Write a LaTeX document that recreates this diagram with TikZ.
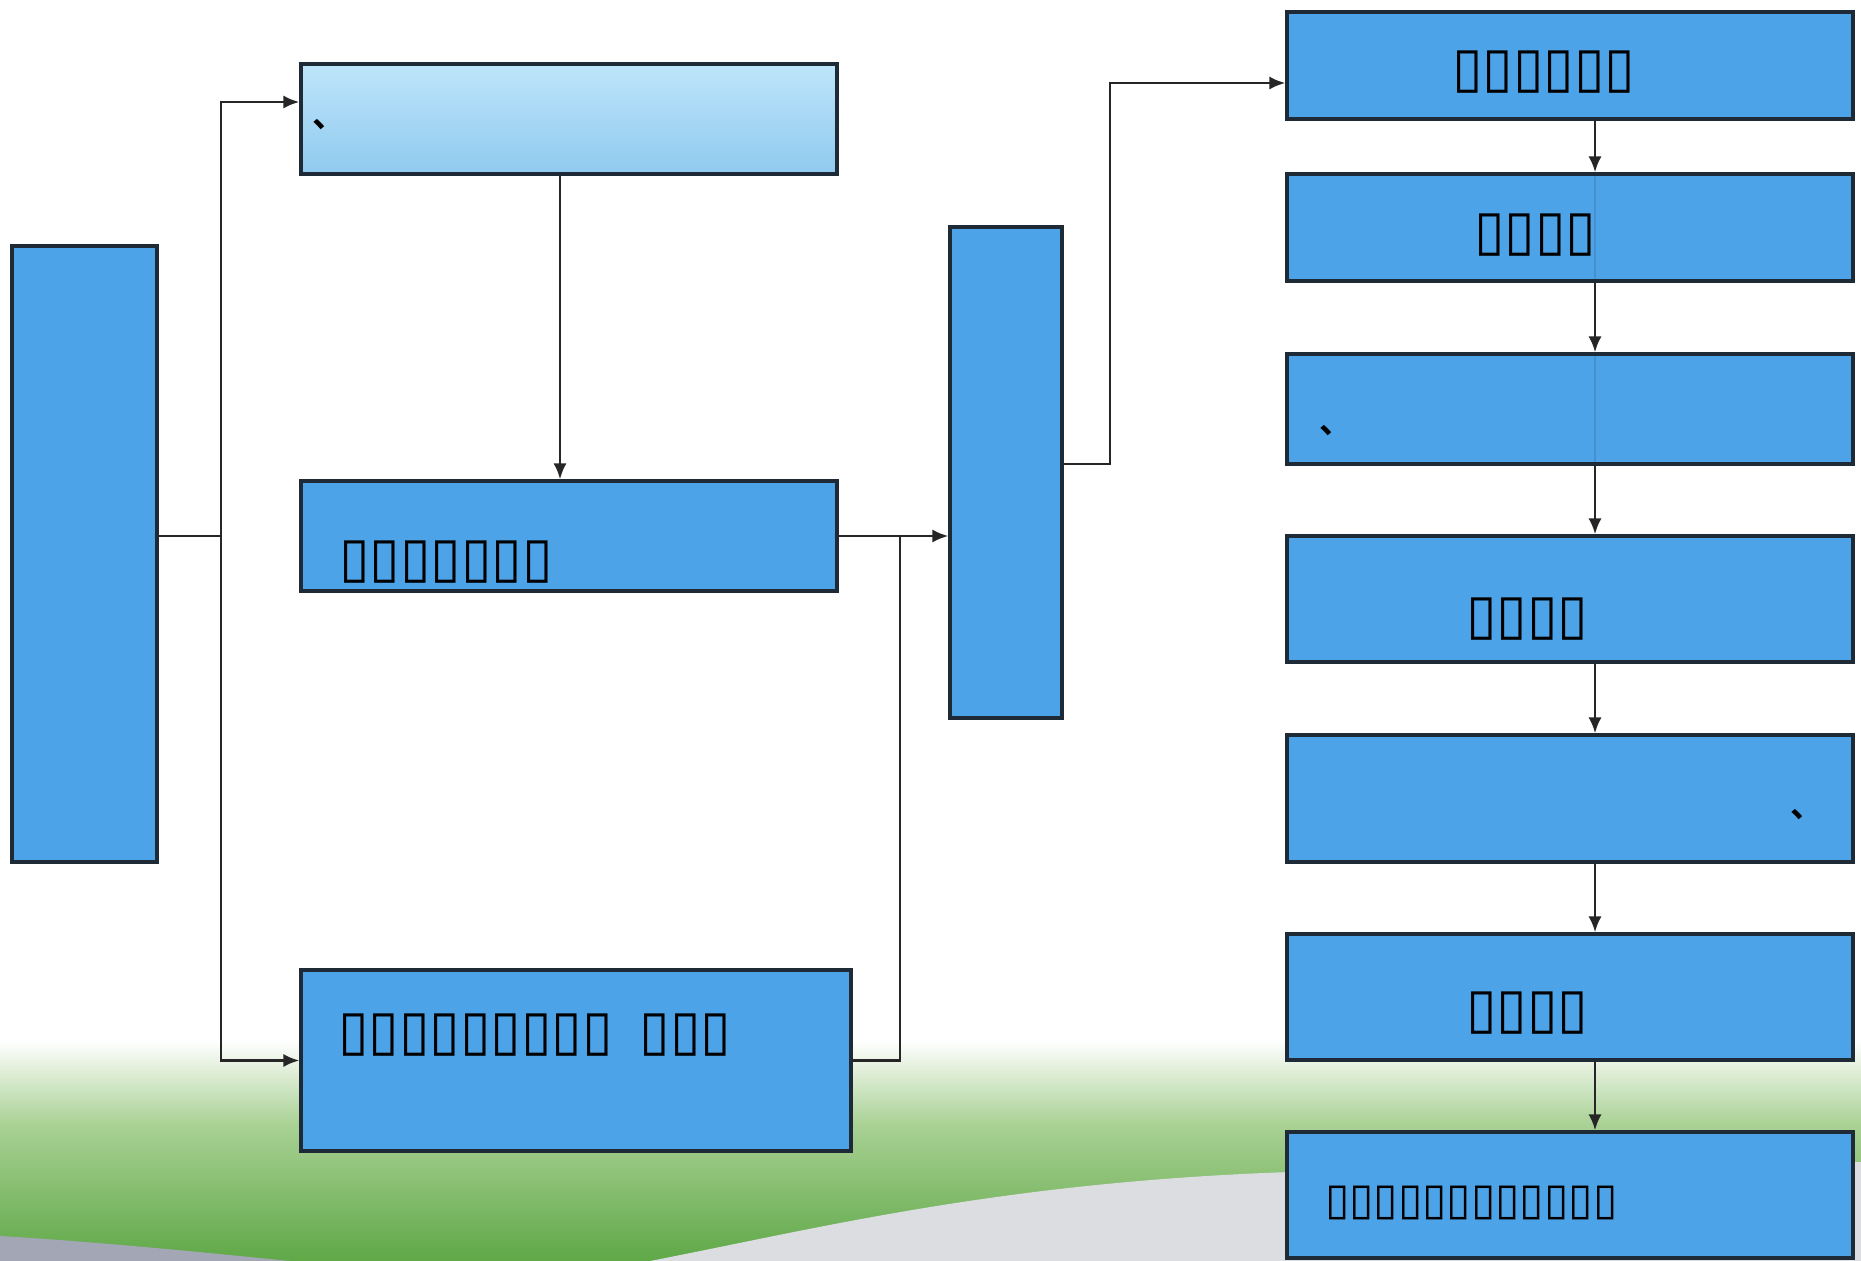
\documentclass[tikz,border=0pt]{standalone}
\usepackage{fontspec}
\usetikzlibrary{arrows.meta,calc}
\newfontfamily\dvfont{DejaVu Sans}
\newfontfamily\cjkfont{Noto Sans CJK SC}[BoldFont={* Bold}]
\definecolor{boxblue}{HTML}{4DA3E8}
\definecolor{boxedge}{HTML}{1E2A36}
\definecolor{lighttop}{HTML}{BEE5FA}
\definecolor{lightbot}{HTML}{8FCAEF}
\definecolor{grass}{HTML}{5FA847}
\definecolor{grassmid}{HTML}{A9D194}
\definecolor{roadlight}{HTML}{DCDDE1}
\definecolor{roaddark}{HTML}{A3A6B4}
\tikzset{
  bbox/.style={draw=boxedge, line width=4.5pt, fill=boxblue, inner sep=0pt, rectangle},
  lbox/.style={draw=boxedge, line width=4.5pt, top color=lighttop, bottom color=lightbot, inner sep=0pt, rectangle},
  conn/.style={draw=black!85, line width=4.2pt},
  arr/.style={conn, -{Latex[length=23pt,width=19pt]}},
  ghost/.style={draw=boxedge, line width=3pt, opacity=0.15},
  tofu/.style={font=\dvfont\bfseries\fontsize{79}{86}\selectfont, inner sep=0pt, anchor=west, text=black},
  tofusmall/.style={font=\dvfont\bfseries\fontsize{63}{70}\selectfont, inner sep=0pt, anchor=west, text=black},
  comma/.style={font=\cjkfont\bfseries\fontsize{48}{54}\selectfont, inner sep=0pt, anchor=base west, text=black}
}
\begin{document}
\begin{tikzpicture}[x=0.05cm, y=-0.05cm]
\useasboundingbox (0,0) rectangle (1861,1261);
% background
\fill[white] (0,0) rectangle (1861,1261);
\shade[top color=white, bottom color=grassmid] (0,1040) rectangle (1861,1125);
\shade[top color=grassmid, bottom color=grass] (0,1125) rectangle (1861,1261);
\fill[roadlight] (650,1261) .. controls (820,1228) and (1000,1182) .. (1290,1172) -- (1861,1162) -- (1861,1261) -- cycle;
\fill[roaddark] (0,1236) .. controls (100,1242) and (200,1252) .. (290,1261) -- (0,1261) -- cycle;

% boxes
\node[bbox, minimum width=145*0.05cm, minimum height=616*0.05cm] (L) at (84.5,554) {};
\node[lbox, minimum width=536*0.05cm, minimum height=110*0.05cm] (T) at (569,119) {};
\node[bbox, minimum width=536*0.05cm, minimum height=110*0.05cm] (M) at (569,536) {};
\node[bbox, minimum width=550*0.05cm, minimum height=181*0.05cm] (B) at (576,1060.5) {};
\node[bbox, minimum width=112*0.05cm, minimum height=491*0.05cm] (C) at (1006,472.5) {};
\node[bbox, minimum width=566*0.05cm, minimum height=107*0.05cm] (R1) at (1570,65.5) {};
\node[bbox, minimum width=566*0.05cm, minimum height=107*0.05cm] (R2) at (1570,227.5) {};
\node[bbox, minimum width=566*0.05cm, minimum height=110*0.05cm] (R3) at (1570,409) {};
\node[bbox, minimum width=566*0.05cm, minimum height=126*0.05cm] (R4) at (1570,599) {};
\node[bbox, minimum width=566*0.05cm, minimum height=127*0.05cm] (R5) at (1570,798.5) {};
\node[bbox, minimum width=566*0.05cm, minimum height=126*0.05cm] (R6) at (1570,997) {};
\node[bbox, minimum width=566*0.05cm, minimum height=126*0.05cm] (R7) at (1570,1195) {};

% texts
\node[comma] (tT) at (312,127) {、};
\node[tofu] (tM) at (339,562) {▯▯▯▯▯▯▯};
\node[tofu] (tB) at (338,1035) {▯▯▯▯▯▯▯▯▯\hspace{38pt}▯▯▯};
\node[tofu] (tR1) at (1452,72) {▯▯▯▯▯▯};
\node[tofu] (tR2) at (1474,235) {▯▯▯▯};
\node[comma] (tR3) at (1319,433) {、};
\node[tofu] (tR4) at (1466,619) {▯▯▯▯};
\node[comma] (tR5) at (1790,817) {、};
\node[tofu] (tR6) at (1466,1013) {▯▯▯▯};
\node[tofusmall] (tR7) at (1325,1203) {▯▯▯▯▯▯▯▯▯▯▯▯};

% connectors
\coordinate (j) at (221,536);
\coordinate (tx) at (560,0);
\coordinate (jb) at (900,536);
\coordinate (jc) at (1110,0);
\coordinate (rx) at (1595,0);
\draw[conn] (L.east |- j) -- (j);
\draw[arr] (j) |- ([yshift=0.85cm]T.west);
\draw[arr] (j) |- (B.west);
\draw[arr] (T.south -| tx) -- (M.north -| tx);
\draw[arr] (M.east) -- (C.west |- M.east);
\draw[conn] (B.east) -| (jb);
\draw[arr] ([yshift=0.425cm]C.east) coordinate (cs) -- (cs -| jc) |- ([yshift=-0.875cm]R1.west);
\draw[arr] (R1.south -| rx) -- (R2.north -| rx);
\draw[arr] (R2.south -| rx) -- (R3.north -| rx);
\draw[arr] (R3.south -| rx) -- (R4.north -| rx);
\draw[arr] (R4.south -| rx) -- (R5.north -| rx);
\draw[arr] (R5.south -| rx) -- (R6.north -| rx);
\draw[arr] (R6.south -| rx) -- (R7.north -| rx);
% connector lines faintly visible through the boxes
\draw[ghost] (R2.north -| rx) -- (R2.south -| rx);
\draw[ghost] (R3.north -| rx) -- (R3.south -| rx);
\end{tikzpicture}
\end{document}
